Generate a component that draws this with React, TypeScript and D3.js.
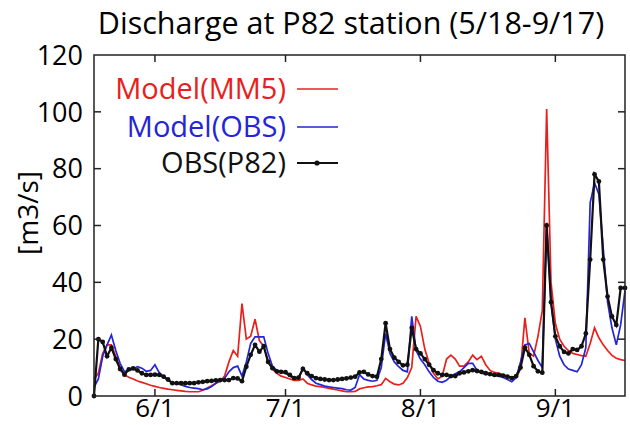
import React, { useEffect, useRef } from 'react';
import * as d3 from 'd3';

// daily values from 5/18 to 9/17 (123 days)
const startDay = Date.UTC(2008, 4, 18);
const endDay = Date.UTC(2008, 8, 17);

const obsP82 = [
  0, 20, 19, 14, 17, 13, 9.5, 7.5, 9.4, 9.7,
  9, 8, 7.4, 7.4, 7.5, 7.4, 6.8, 5.8, 4.5, 4.5,
  4.5, 4.5, 4.5, 4.5, 4.8, 5, 5.2, 5.3, 5.5, 5.6,
  5.6, 5.6, 6.3, 6.2, 5.2, 10.3, 14.5, 18, 15.6, 17.5,
  12, 9.8, 8.7, 8.5, 8.4, 7.4, 6.3, 6.5, 9.5, 8,
  7, 6.3, 6, 5.8, 5.6, 5.6, 5.8, 6, 6.2, 6.5,
  6.8, 8.3, 8.5, 7.6, 7, 6.8, 13, 25.6, 16.5, 13.5,
  12, 10.8, 11, 24, 16.5, 15, 13, 11, 9.1, 8,
  7.4, 7.4, 7, 7, 8, 8.3, 8.7, 9.1, 8.8, 8.5,
  8, 7.7, 7.4, 7.4, 7.2, 6.8, 6.3, 7, 10, 17,
  14.5, 10.5, 8.7, 8.2, 60, 33, 21, 17.5, 15.5, 15,
  16.5, 16.2, 17.5, 22, 48, 78, 75.5, 48, 35, 28,
  25, 38, 38,
];

const modelObs = [
  3, 6, 14, 18, 21.5, 16, 11.5, 8.6, 9, 9.5,
  10.3, 9.8, 8.7, 9, 11, 8.2, 6.8, 5.4, 4.8, 4.4,
  4, 3.4, 3, 2.8, 2.6, 2.2, 2.5, 3.3, 4.5, 5.5,
  6.2, 8.5, 10, 10.5, 7, 12, 18.5, 20.8, 20.8, 20.8,
  15, 10.5, 9, 8.5, 8, 7, 6, 6, 10, 7.5,
  5.8, 4.5, 4, 3.5, 3.2, 3, 2.8, 2.6, 2.2, 2.1,
  3, 7.5, 6, 5.5, 5.2, 5.5, 10, 22, 15, 12,
  10.3, 9, 8.5, 28, 16, 13, 11, 8.5, 6.5, 5.2,
  4.8, 5.5, 7, 7.8, 8.5, 10, 11.5, 11.5, 9, 8,
  7.7, 7.5, 7.2, 7, 6.5, 5.8, 5, 6.5, 12, 18,
  18.5, 15.5, 12.5, 10, 61, 33, 20, 14, 11, 9.5,
  9, 8.5, 11, 17, 68, 75, 71, 52, 33, 24,
  18, 25, 37,
];

const modelMM5 = [
  6, 8, 15, 18, 18, 14, 10, 7.4, 6.6, 6,
  5.3, 4.8, 4.3, 3.8, 3.4, 3, 2.7, 2.4, 2.2, 2,
  1.8, 1.6, 1.5, 1.5, 1.5, 2, 2.8, 3.6, 4.5, 5.2,
  7, 12, 16, 14, 32.5, 20, 21, 27, 19.5, 17.5,
  12, 9.5, 8, 7, 6.5, 6, 5.5, 5.5, 6, 4.5,
  3.9, 3.5, 3.3, 3, 2.7, 2.4, 2.1, 1.8, 1.5, 1.5,
  1.6, 2.5, 2.9, 3.2, 3.3, 3.6, 4, 6.2, 5, 4.2,
  3.9, 4.5, 6.5, 10, 28, 24.5, 16.5, 11.5, 8, 6,
  7, 13, 14.4, 13, 10.5, 10.5, 12, 14.4, 12.8, 14,
  11, 9, 8.3, 8, 7.5, 7, 6.5, 6.5, 9.5, 27.5,
  15, 14, 21, 30, 101, 40, 25.5, 20, 17.5, 16,
  15, 14.6, 14.2, 14, 18.5, 24, 20.5, 18, 16, 14.3,
  13.3, 12.8, 12.5,
];

const yTicks = [0, 20, 40, 60, 80, 100, 120];
const xTicks = [Date.UTC(2008, 5, 1), Date.UTC(2008, 6, 1), Date.UTC(2008, 7, 1), Date.UTC(2008, 8, 1)];

const seriesNames = ['Model(MM5)', 'Model(OBS)', 'OBS(P82)'];
const seriesColors = ['#e8201c', '#2424d8', '#111111'];

const FONT = '"Open Sans", sans-serif';

const App = () => {
  const svgRef = useRef<SVGSVGElement>(null);

  useEffect(() => {
    const svg = d3.select(svgRef.current);
    svg.selectAll('*').remove();

    const left = 94, right = 625, top = 55, bottom = 396;

    const x = d3.scaleUtc().domain([startDay, endDay]).range([left, right]);
    const y = d3.scaleLinear().domain([0, 120]).range([bottom, top]);

    const dayDate = (i: number) => d3.utcDay.offset(new Date(startDay), i);

    // title
    svg.append('text')
      .attr('x', 351).attr('y', 34)
      .attr('text-anchor', 'middle')
      .style('font-family', FONT).style('font-size', '30.5px')
      .text('Discharge at P82 station (5/18-9/17)');

    // y label
    svg.append('text')
      .attr('transform', `translate(38,213) rotate(-90)`)
      .attr('text-anchor', 'middle')
      .style('font-family', FONT).style('font-size', '28px')
      .text('[m3/s]');

    const g = svg.append('g');

    // lines
    const makeLine = (vals: number[]) => d3.line<number>()
      .x((_, i) => x(dayDate(i)))
      .y(d => y(d))(vals);

    g.append('path').attr('d', makeLine(modelMM5)).attr('fill', 'none')
      .attr('stroke', seriesColors[0]).attr('stroke-width', 1.7);
    g.append('path').attr('d', makeLine(modelObs)).attr('fill', 'none')
      .attr('stroke', seriesColors[1]).attr('stroke-width', 1.7);
    g.append('path').attr('d', makeLine(obsP82)).attr('fill', 'none')
      .attr('stroke', seriesColors[2]).attr('stroke-width', 2.2);
    g.selectAll('.obs-pt')
      .data(obsP82)
      .enter()
      .append('circle')
      .attr('class', 'obs-pt')
      .attr('cx', (_, i) => x(dayDate(i)))
      .attr('cy', d => y(d))
      .attr('r', 2.4)
      .attr('fill', seriesColors[2]);

    // frame
    svg.append('rect')
      .attr('x', left).attr('y', top)
      .attr('width', right - left).attr('height', bottom - top)
      .attr('fill', 'none').attr('stroke', '#222').attr('stroke-width', 1.5);

    // ticks
    const tk = 7;
    yTicks.slice(1, -1).forEach(v => {
      svg.append('line').attr('x1', left).attr('x2', left + tk).attr('y1', y(v)).attr('y2', y(v)).attr('stroke', '#222').attr('stroke-width', 1.5);
      svg.append('line').attr('x1', right).attr('x2', right - tk).attr('y1', y(v)).attr('y2', y(v)).attr('stroke', '#222').attr('stroke-width', 1.5);
    });
    xTicks.forEach(t => {
      const px = x(new Date(t));
      svg.append('line').attr('x1', px).attr('x2', px).attr('y1', bottom).attr('y2', bottom - tk).attr('stroke', '#222').attr('stroke-width', 1.5);
      svg.append('line').attr('x1', px).attr('x2', px).attr('y1', top).attr('y2', top + tk).attr('stroke', '#222').attr('stroke-width', 1.5);
    });

    // tick labels
    svg.selectAll('.ylab')
      .data(yTicks)
      .enter()
      .append('text')
      .attr('x', left - 11)
      .attr('y', d => y(d))
      .attr('dy', '0.36em')
      .attr('text-anchor', 'end')
      .style('font-family', FONT).style('font-size', '27px')
      .text(d => d);

    svg.selectAll('.xlab')
      .data(xTicks)
      .enter()
      .append('text')
      .attr('x', d => x(new Date(d)))
      .attr('y', 417)
      .attr('text-anchor', 'middle')
      .style('font-family', FONT).style('font-size', '26px')
      .text(d => d3.utcFormat('%-m/%-d')(new Date(d)));

    // legend
    const legY = [89, 127, 163];
    seriesNames.forEach((name, i) => {
      svg.append('text')
        .attr('x', 286).attr('y', legY[i])
        .attr('dy', '0.36em')
        .attr('text-anchor', 'end')
        .style('font-family', FONT).style('font-size', '29px')
        .attr('fill', i === 2 ? '#111' : seriesColors[i])
        .text(name);
      svg.append('line')
        .attr('x1', 297).attr('x2', 338)
        .attr('y1', legY[i]).attr('y2', legY[i])
        .attr('stroke', seriesColors[i]).attr('stroke-width', i === 2 ? 2.2 : 1.7);
      if (i === 2) {
        svg.append('circle').attr('cx', 317).attr('cy', legY[i]).attr('r', 2.6).attr('fill', seriesColors[2]);
      }
    });
  }, []);

  return (
    <div style={{ position: 'absolute', left: 0, top: 0 }}>
      <svg ref={svgRef} width={630} height={425} style={{ display: 'block', background: '#fff' }} />
    </div>
  );
};

export default App;
